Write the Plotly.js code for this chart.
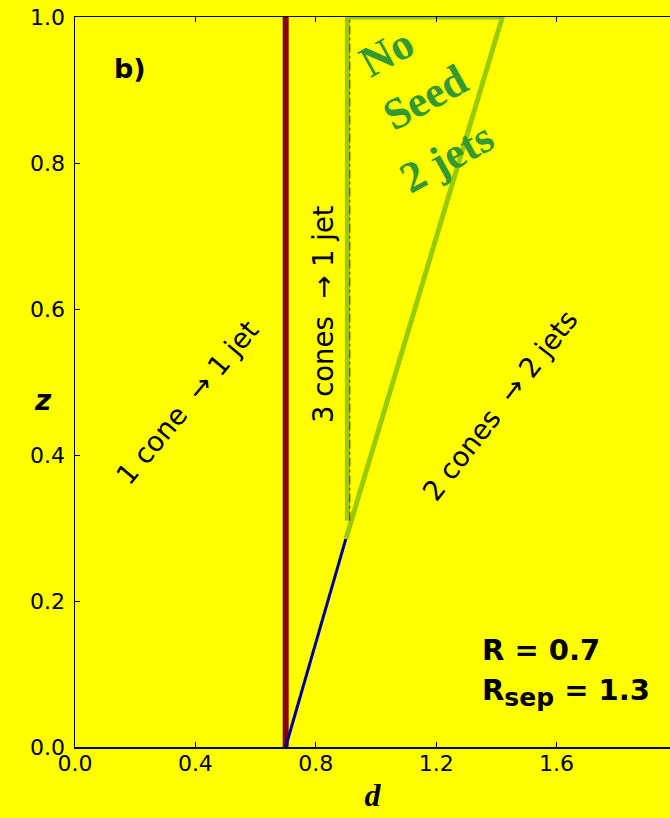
<!DOCTYPE html>
<html>
<head>
<meta charset="utf-8">
<script src="https://cdn.plot.ly/plotly-3.0.1.min.js"></script>
<style>html,body{margin:0;padding:0;background:#ffff00;}</style>
</head>
<body>
<div id="chart" style="width:670px;height:818px;"></div>
<script>
// Boundary lines (d, z)
const coneBoundaryD = [0.7, 0.7];
const coneBoundaryZ = [0, 1.0];
const seedLineD = [0.7, 0.9];
const seedLineZ = [0, 0.285];
const noSeedD = [0.905, 0.905, 1.42, 0.9];
const noSeedZ = [0.31, 1.0, 1.0, 0.285];
const dashD = [0.913, 0.913];
const dashZ = [0.31, 1.0];

const xTicks = [0, 0.4, 0.8, 1.2, 1.6];
const yTicks = [0, 0.2, 0.4, 0.6, 0.8, 1.0];

const regionLabels = ['1 cone  \u2192 1 jet', '3 cones  \u2192 1 jet', '2 cones  \u2192 2 jets'];
const regionD = [0.372, 0.824, 1.412];
const regionZ = [0.473, 0.593, 0.468];
const regionAngle = [-50, -90, -52];

const noSeedText = ['No', 'Seed', '2 jets'];
const noSeedTextD = [1.037, 1.163, 1.236];
const noSeedTextZ = [0.951, 0.890, 0.808];

const SANS = 'DejaVu Sans, Verdana, sans-serif';
const SERIF = 'Liberation Serif, Times New Roman, serif';

const traces = [
  {x: coneBoundaryD, y: coneBoundaryZ, mode: 'lines', line: {color: '#8b0000', width: 6}, hoverinfo: 'skip'},
  {x: seedLineD, y: seedLineZ, mode: 'lines', line: {color: '#000099', width: 3}, hoverinfo: 'skip'},
  {x: noSeedD, y: noSeedZ, mode: 'lines', line: {color: '#99cc00', width: 5}, hoverinfo: 'skip'},
  {x: dashD, y: dashZ, mode: 'lines', line: {color: '#a00000', width: 1, dash: 'dashdot'}, hoverinfo: 'skip'}
];

const annotations = [];
for (let i = 0; i < regionLabels.length; i++) {
  annotations.push({x: regionD[i], y: regionZ[i], xref: 'x', yref: 'y', text: regionLabels[i],
    showarrow: false, textangle: regionAngle[i],
    font: {family: SANS, size: 27.5, color: '#000'}});
}
for (let i = 0; i < noSeedText.length; i++) {
  annotations.push({x: noSeedTextD[i], y: noSeedTextZ[i], xref: 'x', yref: 'y', text: '<b>' + noSeedText[i] + '</b>',
    showarrow: false, textangle: -29,
    font: {family: SERIF, size: 44, color: '#339933'}});
}
annotations.push({x: 0.183, y: 0.93, xref: 'x', yref: 'y', text: '<b>b)</b>', showarrow: false,
  font: {family: SANS, size: 27, color: '#000'}});
annotations.push({x: 1.345, y: 0.133, xref: 'x', yref: 'y', xanchor: 'left', text: '<b>R = 0.7</b>', showarrow: false,
  font: {family: SANS, size: 29, color: '#000'}});
annotations.push({x: 1.345, y: 0.075, xref: 'x', yref: 'y', xanchor: 'left',
  text: '<b>R<sub><span style="font-size:25px">sep</span></sub> = 1.3</b>', showarrow: false,
  font: {family: SANS, size: 29, color: '#000'}});
annotations.push({x: (32 - 75) / 595, y: 0.475, xref: 'paper', yref: 'y', text: '<b><i>z</i></b>', showarrow: false,
  font: {family: SANS, size: 28, color: '#000'}});

const layout = {
  width: 670, height: 818,
  margin: {l: 75, r: 0, t: 17, b: 71},
  paper_bgcolor: '#ffff00', plot_bgcolor: '#ffff00',
  showlegend: false,
  xaxis: {
    range: [0, 1.977], tickvals: xTicks, ticktext: xTicks.map(v => v.toFixed(1)),
    ticks: 'inside', ticklen: 5, tickcolor: '#000', showline: true, linecolor: '#000', linewidth: 1.5,
    mirror: 'ticks', showgrid: false, zeroline: false, ticklabelstandoff: -4,
    tickfont: {family: SANS, size: 22, color: '#000'},
    title: {text: '<b><i>d</i></b>', font: {family: SERIF, size: 32, color: '#000'}, standoff: 8}
  },
  yaxis: {
    range: [0, 1.0], tickvals: yTicks, ticktext: yTicks.map(v => v.toFixed(1)),
    ticks: 'inside', ticklen: 5, tickcolor: '#000', showline: true, linecolor: '#000', linewidth: 1.5,
    showgrid: false, zeroline: false, ticklabelstandoff: 4,
    tickfont: {family: SANS, size: 22, color: '#000'}
  },
  annotations: annotations
};

Plotly.newPlot('chart', traces, layout, {staticPlot: true});
</script>
</body>
</html>
